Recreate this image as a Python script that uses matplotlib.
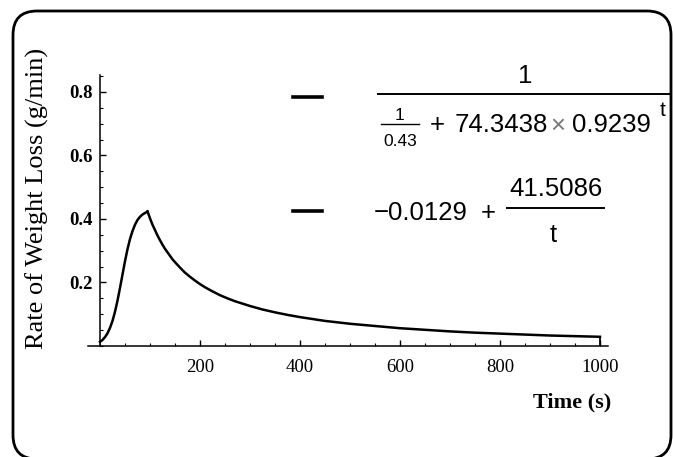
import numpy as np
import matplotlib
matplotlib.use("Agg")
import matplotlib.pyplot as plt
from matplotlib.patches import FancyBboxPatch
from matplotlib.ticker import MultipleLocator, FixedLocator

# values
t_rise = [0, 5, 10, 15, 20, 25, 30, 35, 40, 45, 50, 55, 60, 65, 70, 75, 80, 85, 90, 95]
rate_rise = [0.013, 0.019, 0.028, 0.040, 0.057, 0.079, 0.108, 0.143, 0.183, 0.225,
             0.267, 0.305, 0.337, 0.362, 0.382, 0.397, 0.407, 0.414, 0.419, 0.423]

t_decay = [95, 100, 105, 110, 115, 120, 125, 130, 135, 140, 145, 150, 160, 170, 180,
           190, 200, 210, 225, 240, 255, 270, 300, 325, 350, 375, 400, 450, 500, 550,
           600, 650, 700, 750, 800, 850, 900, 950, 1000]
rate_decay = [0.424, 0.402, 0.382, 0.365, 0.348, 0.333, 0.319, 0.306, 0.295, 0.284,
              0.273, 0.264, 0.247, 0.231, 0.218, 0.206, 0.195, 0.185, 0.172, 0.160,
              0.150, 0.141, 0.126, 0.115, 0.106, 0.098, 0.091, 0.079, 0.070, 0.063,
              0.056, 0.051, 0.046, 0.042, 0.039, 0.036, 0.033, 0.031, 0.029]

x_ticks = [200, 400, 600, 800, 1000]
y_ticks = [0.2, 0.4, 0.6, 0.8]

W, H = 673, 457
fig = plt.figure(figsize=(W / 100, H / 100), dpi=100)

# main plot, placed in pixel terms
ax = fig.add_axes([88 / W, (H - 346) / H, 520 / W, 271 / H])
ax.set_facecolor("none")
ax.plot(t_rise, rate_rise, color="black", lw=1.8, solid_joinstyle="round")
ax.plot(t_decay, rate_decay, color="black", lw=1.8, solid_joinstyle="round")
ax.vlines(t_decay[-1], 0, rate_decay[-1], color="black", lw=1.3)
ax.set_xlim(-24, 1016)
ax.set_ylim(0, 0.8535)

for s in ["top", "right"]:
    ax.spines[s].set_visible(False)
ax.spines["left"].set_position(("data", 0))
ax.spines["left"].set_linewidth(1.1)
ax.spines["bottom"].set_linewidth(1.1)

ax.xaxis.set_major_locator(FixedLocator(x_ticks))
ax.xaxis.set_minor_locator(MultipleLocator(50))
ax.yaxis.set_major_locator(FixedLocator(y_ticks))
ax.yaxis.set_minor_locator(MultipleLocator(0.05))
ax.tick_params(which="major", direction="in", length=4.5, width=1.0)
ax.tick_params(which="minor", direction="in", length=2.5, width=0.8)
ax.tick_params(axis="x", pad=9)
ax.tick_params(axis="y", pad=5)
ax.set_xticklabels([str(v) for v in x_ticks], family="Liberation Serif", fontsize=13.5)
ax.set_yticklabels([str(v) for v in y_ticks], family="Liberation Serif", fontsize=13.5,
                   fontweight="bold")

# overlay in pixel coordinates (y measured from the top) for border, labels and legend
ov = fig.add_axes([0, 0, 1, 1], zorder=5)
ov.set_facecolor("none")
ov.set_xlim(0, W)
ov.set_ylim(0, H)
ov.axis("off")


def py(y):
    return H - y


ov.add_patch(FancyBboxPatch((13, py(459)), 658, 448,
                            boxstyle="round,pad=0,rounding_size=24",
                            fill=False, ec="black", lw=2.0, clip_on=False))

ov.text(37, py(198), "Rate of Weight Loss (g/min)", rotation=90, ha="center",
        va="center", family="Liberation Serif", fontsize=19)
ov.text(572, py(402), "Time (s)", ha="center", va="center", family="Liberation Serif",
        fontsize=16, fontweight="bold")

sans = "Liberation Sans"
fs = 18.5

# legend entry 1
ov.plot([293, 322], [py(97), py(97)], color="black", lw=2.6)
ov.text(525, py(76), "1", ha="center", va="center", family=sans, fontsize=fs)
ov.plot([378, 670], [py(94), py(94)], color="black", lw=1.4)
ov.text(400, py(115), "1", ha="center", va="center", family=sans, fontsize=12.5)
ov.plot([381, 419], [py(124), py(124)], color="black", lw=1.0)
ov.text(400, py(141), "0.43", ha="center", va="center", family=sans, fontsize=12.5)
ov.text(437, py(125), "+", ha="center", va="center", family=sans, fontsize=fs)
ov.text(455, py(125), "74.3438", ha="left", va="center", family=sans, fontsize=fs)
ov.text(558, py(126), "\u00d7", ha="center", va="center", family=sans, fontsize=fs,
        color="#777777")
ov.text(572, py(125), "0.9239", ha="left", va="center", family=sans, fontsize=fs)
ov.text(663, py(111), "t", ha="center", va="center", family=sans, fontsize=15)

# legend entry 2
ov.plot([293, 322], [py(211), py(211)], color="black", lw=2.6)
ov.text(374, py(213), "\u22120.0129", ha="left", va="center", family=sans, fontsize=fs)
ov.text(488, py(213), "+", ha="center", va="center", family=sans, fontsize=fs)
ov.text(556, py(189), "41.5086", ha="center", va="center", family=sans, fontsize=fs)
ov.plot([507, 604], [py(208), py(208)], color="black", lw=1.4)
ov.text(553, py(235), "t", ha="center", va="center", family=sans, fontsize=fs)

fig.savefig("out.png", dpi=100)
